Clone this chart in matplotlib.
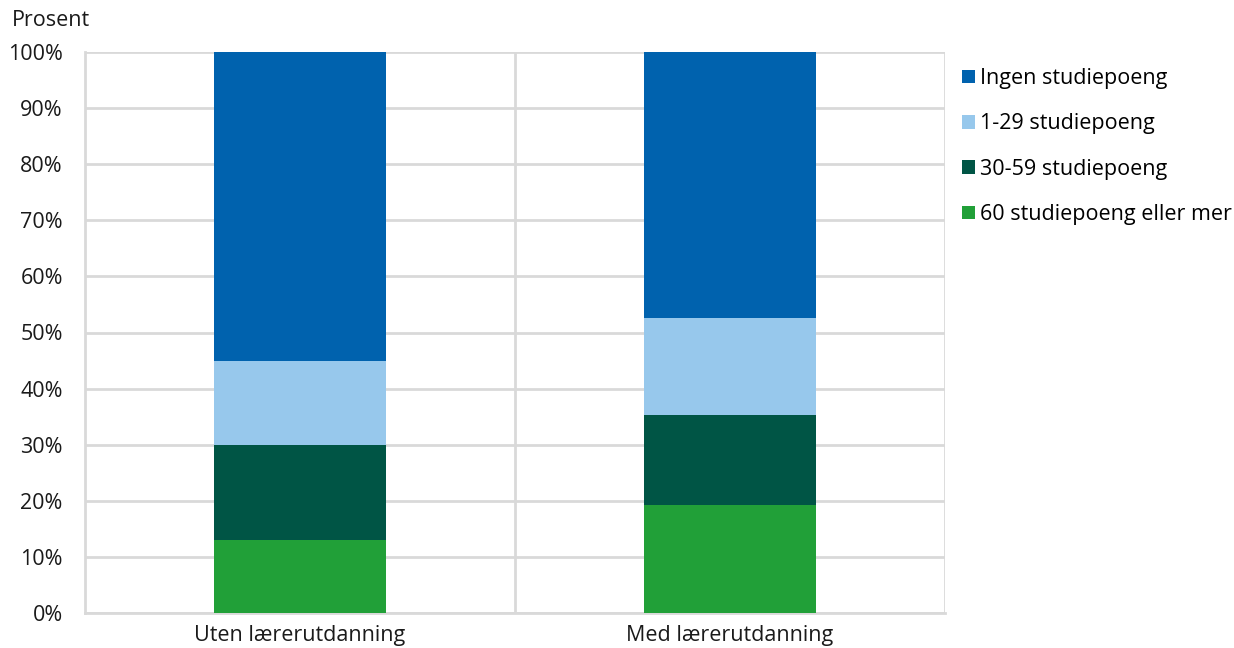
import numpy as np
import matplotlib.pyplot as plt

plt.rcParams['font.family'] = ['Open Sans', 'DejaVu Sans']

categories = ["Uten lærerutdanning", "Med lærerutdanning"]
series = ["Ingen studiepoeng", "1-29 studiepoeng", "30-59 studiepoeng", "60 studiepoeng eller mer"]
ingen = [55.0, 47.5]
s1_29 = [15.0, 17.2]
s30_59 = [17.0, 16.1]
s60 = [13.0, 19.2]
colors = ["#0062AE", "#97C8EC", "#005545", "#21A038"]

fs = 15.5

fig = plt.figure(figsize=(12.34, 6.48), dpi=100)
ax = fig.add_axes([85/1234, 35/648, 860/1234, 561/648])

x = np.arange(len(categories))
stack = [s60, s30_59, s1_29, ingen]
stack_colors = colors[::-1]
stack_labels = series[::-1]
bottom = np.zeros(len(categories))
handles = {}
for vals, c, lab in zip(stack, stack_colors, stack_labels):
    b = ax.bar(x, vals, 0.4, bottom=bottom, color=c, label=lab, zorder=3)
    handles[lab] = b
    bottom += np.array(vals)

ax.set_xlim(-0.5, 1.5)
ax.set_ylim(0, 100)
ax.set_yticks(np.arange(0, 101, 10))
ax.set_yticklabels([f"{v}%" for v in range(0, 101, 10)], fontsize=fs)
ax.set_xticks(x)
ax.set_xticklabels(categories, fontsize=fs)
ax.set_xticks([0.5, 1.5], minor=True)
ax.tick_params(axis='both', length=0, colors='#1a1a1a')
ax.tick_params(axis='y', pad=16)
ax.tick_params(axis='x', pad=9)
ax.tick_params(axis='x', which='minor', length=0)
ax.grid(axis='y', color='#d9d9d9', linewidth=2, zorder=0)
ax.grid(axis='x', which='minor', color='#d9d9d9', linewidth=2, zorder=0)
for s in ['top', 'right']:
    ax.spines[s].set_visible(False)
for s in ['left', 'bottom']:
    ax.spines[s].set_color('#d9d9d9')
    ax.spines[s].set_linewidth(2)

fig.text(12/1234, 1 - 20/648, "Prosent", fontsize=fs, va='center', ha='left', color='#1a1a1a')

leg = fig.legend([handles[s] for s in series], series, loc='upper left',
                 bbox_to_anchor=(962/1234, 1 - 68/648), frameon=False, fontsize=fs,
                 handlelength=0.6, handleheight=0.6, handletextpad=0.25, labelspacing=1.13,
                 borderpad=0, borderaxespad=0)

fig.savefig("out.png", dpi=100)
